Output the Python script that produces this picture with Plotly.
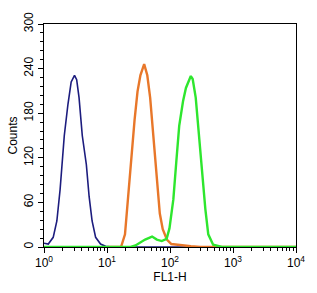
import plotly.graph_objects as go

# FL1-H channel values and counts
blue_x = [1.0, 1.17, 1.4, 1.6, 1.8, 2.1, 2.4, 2.7, 3.05, 3.3, 3.6, 4.05, 4.7, 5.2, 5.8, 6.6, 7.9, 9.5, 12, 20, 40, 100, 1000, 10000]
blue_y = [5, 4, 13, 35, 77, 150, 192, 222, 231, 225, 201, 150, 111, 68, 35, 13, 4, 1, 0, 0, 0, 0, 0, 0]

orange_x = [10.5, 16.7, 19.3, 21.4, 23.8, 27.4, 30.5, 33.9, 38.9, 43.6, 48.4, 55.7, 61.8, 68.9, 76.7, 89.3, 105, 151, 214, 303, 1000, 10000]
orange_y = [0, 0, 17, 64, 115, 171, 209, 231, 246, 231, 201, 135, 86, 45, 24, 10, 4, 2, 1, 0, 0, 0]

green_x = [1.0, 23.8, 28.3, 33.9, 40.3, 51.9, 61.8, 74, 88.3, 98, 113, 126, 140, 161, 179, 214, 229, 256, 284, 327, 364, 405, 484, 665, 10000]
green_y = [0, 0, 2, 6, 10, 14, 10, 8, 11, 25, 64, 115, 163, 196, 214, 230, 226, 201, 154, 94, 51, 17, 3, 0, 0]

x_tickvals = [1, 10, 100, 1000, 10000]
x_ticktext = ["10<sup>0</sup>", "10<sup>1</sup>", "10<sup>2</sup>", "10<sup>3</sup>", "10<sup>4</sup>"]
x_minor = [m * d for d in [1, 10, 100, 1000] for m in range(2, 10)]
y_tickvals = [0, 60, 120, 180, 240, 300]
y_minor = list(range(0, 301, 12))

fig = go.Figure()
fig.add_trace(go.Scatter(x=blue_x, y=blue_y, mode="lines", line=dict(color="#1c1c7e", width=1.6)))
fig.add_trace(go.Scatter(x=orange_x, y=orange_y, mode="lines", line=dict(color="#e8772a", width=2.4)))
fig.add_trace(go.Scatter(x=green_x, y=green_y, mode="lines", line=dict(color="#2ee62e", width=2.4)))

font = dict(family="Liberation Sans, Arial, sans-serif", size=12, color="#000")
fig.update_layout(
    width=317, height=293,
    margin=dict(l=38, r=18, t=16, b=43),
    paper_bgcolor="white", plot_bgcolor="white",
    showlegend=False, font=font,
    xaxis=dict(
        type="log", range=[0, 4], tickvals=x_tickvals, ticktext=x_ticktext,
        showgrid=False, zeroline=False, showline=True, linecolor="black", linewidth=1,
        mirror=True, ticks="outside", ticklen=5, tickcolor="black",
        minor=dict(tickvals=x_minor, ticks="outside", ticklen=3, tickcolor="black", showgrid=False),
        title=dict(text="FL1-H", standoff=2, font=dict(size=12)),
        tickfont=dict(size=12),
    ),
    yaxis=dict(
        range=[0, 300], tickvals=y_tickvals, tickangle=-90,
        showgrid=False, zeroline=False, showline=True, linecolor="black", linewidth=1,
        mirror=True, ticks="outside", ticklen=5, tickcolor="black",
        minor=dict(tickvals=y_minor, ticks="outside", ticklen=3, tickcolor="black", showgrid=False),
        title=dict(text="Counts", standoff=2, font=dict(size=12)),
        tickfont=dict(size=12),
    ),
)
fig.write_html("out.html")
